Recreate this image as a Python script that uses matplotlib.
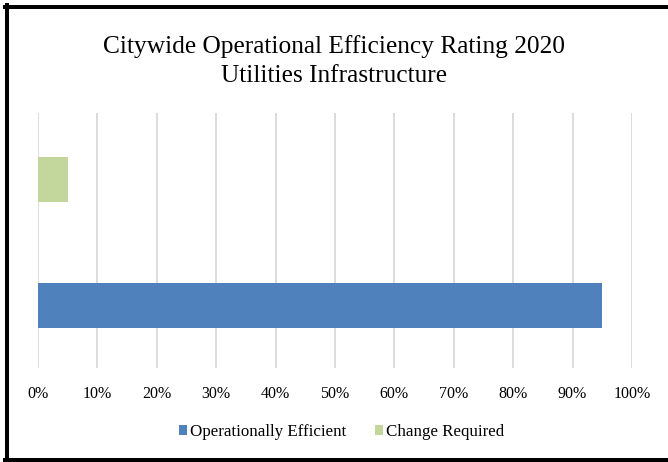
import matplotlib.pyplot as plt
from matplotlib.lines import Line2D
from matplotlib.ticker import PercentFormatter

plt.rcParams['font.family'] = ['Liberation Serif', 'DejaVu Serif']

title = "Citywide Operational Efficiency Rating 2020\nUtilities Infrastructure"
series = ["Operationally Efficient", "Change Required"]
values = [95, 5]
colors = ["#4f81bd", "#c3d69b"]
xticks = list(range(0, 101, 10))

W, H = 668, 462
fig = plt.figure(figsize=(W / 100, H / 100), dpi=100)
ax = fig.add_axes([38 / W, (H - 368) / H, 594 / W, 255 / H])

# one bar per series, first series at the bottom (like Excel)
for i, (name, v, c) in enumerate(zip(series, values, colors)):
    ax.barh(i, v, height=0.36, color=c, label=name, zorder=3)

ax.set_xlim(0, 100)
ax.set_ylim(-0.5, 1.53)
ax.set_xticks(xticks)
ax.xaxis.set_major_formatter(PercentFormatter(decimals=0))
ax.set_yticks([])
ax.tick_params(axis='x', length=0, pad=13, labelsize=11.5)
ax.grid(axis='x', color='#d9d9d9', linewidth=1.3, zorder=0)
for s in ax.spines.values():
    s.set_visible(False)

fig.text(0.5, (H - 61) / H, title, ha='center', va='center',
         fontsize=18.3, linespacing=1.4)

fig.legend(loc='center', bbox_to_anchor=(0.511, (H - 432) / H), ncol=2,
           frameon=False, fontsize=12.2, handlelength=0.5, handleheight=0.55,
           handletextpad=0.15, columnspacing=1.7)

# thick black frame around the chart (no right edge visible)
lw = 4 * 72 / 100
def px(x, y):
    return x / W, 1 - y / H
for (x0, y0), (x1, y1) in [((6.5, 5), (6.5, 460)), ((5, 7), (668, 7)), ((5, 459.5), (668, 459.5))]:
    a, b = px(x0, y0)
    c, d = px(x1, y1)
    fig.add_artist(Line2D([a, c], [b, d], color='black', linewidth=lw,
                          transform=fig.transFigure))

fig.savefig("out.png", dpi=100)
